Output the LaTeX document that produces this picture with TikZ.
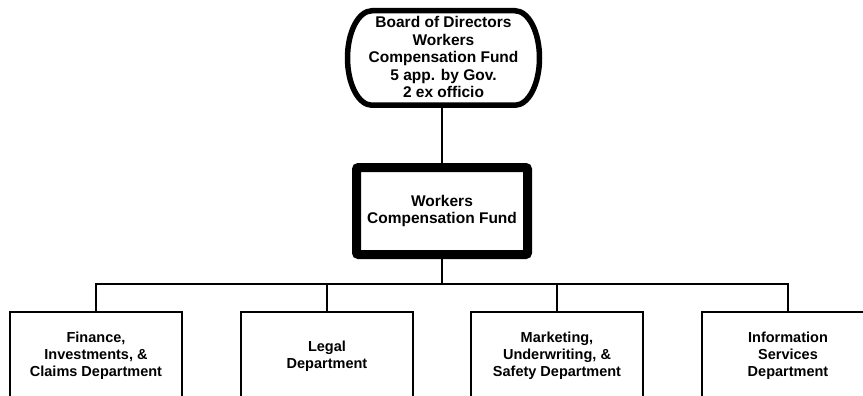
\documentclass[tikz,border=0pt]{standalone}
\usepackage{fontspec}
\setmainfont{Liberation Sans}
\usetikzlibrary{positioning}

\tikzset{
    orgtext/.style={align=center, font=\bfseries\fontsize{15.5}{17.5}\selectfont},
    fundbox/.style={orgtext, draw, line width=9pt, rounded corners=2pt,
        minimum width=171pt, minimum height=87pt, inner sep=0pt},
    deptbox/.style={align=center, font=\bfseries\fontsize{14.5}{17}\selectfont,
        draw, line width=1.7pt, minimum width=172pt, minimum height=88pt, inner sep=0pt},
    conn/.style={line width=1.7pt}
}

\begin{document}
\begin{tikzpicture}[x=1pt,y=-1pt]
    \useasboundingbox (0,0) rectangle (863,396);

    % board of directors
    \node[orgtext] (board) at (443.5,57) {Board of Directors\\Workers\\Compensation Fund\\5 app. by Gov.\\2 ex officio};
    \draw[line width=5.5pt] (372,10.75) -- (515,10.75)
        arc[start angle=90, end angle=-90, x radius=24.5pt, y radius=47.25pt]
        -- (372,105.25)
        arc[start angle=270, end angle=90, x radius=24.5pt, y radius=47.25pt] -- cycle;
    \coordinate (boardbot) at (442,105.25);

    % fund
    \node[fundbox] (wcf) at (442,211) {Workers\\Compensation Fund};

    % departments
    \node[deptbox] (fin) at (96,356) {Finance,\\Investments, \&\\Claims Department};
    \node[deptbox] (legal) at (327,356) {Legal\\Department};
    \node[deptbox] (mkt) at (557,356) {Marketing,\\Underwriting, \&\\Safety Department};
    \node[deptbox] (info) at (788,356) {Information\\Services\\Department};

    % connectors
    \coordinate (bus) at (442,284);
    \draw[conn] (boardbot) -- (wcf.north);
    \draw[conn] (wcf.south) -- (bus);
    \foreach \d in {fin,legal,mkt,info}
        \draw[conn] (\d.north) |- (bus);

\end{tikzpicture}
\end{document}
